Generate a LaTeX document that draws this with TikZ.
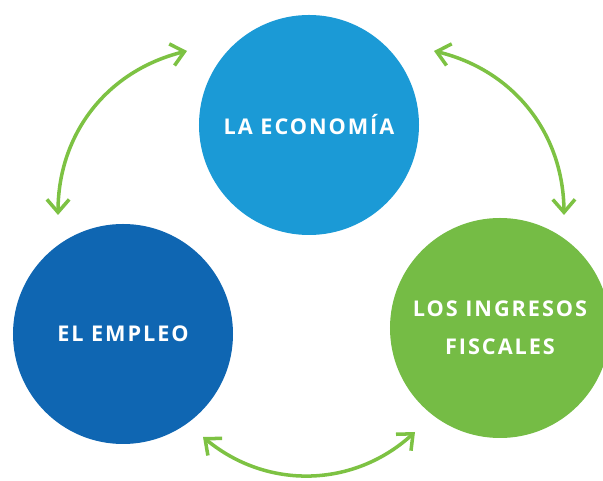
\documentclass[tikz,border=0pt]{standalone}
\usepackage{fontspec}
\setmainfont{Open Sans}[LetterSpace=9]
\usetikzlibrary{arrows.meta}
\definecolor{econblue}{HTML}{1B9AD6}
\definecolor{jobblue}{HTML}{0F66B2}
\definecolor{taxgreen}{HTML}{75BC45}
\definecolor{arrowgreen}{HTML}{7DC243}

\begin{document}
\begin{tikzpicture}[x=0.03cm, y=0.03cm, align=center, text=white,
    font=\bfseries\fontsize{18.5}{32}\selectfont,
    >={Straight Barb[length=11pt,width=19pt]}]
  \useasboundingbox (0,0) rectangle (603,481);

  \node (econ) [circle, fill=econblue, minimum size=6.6cm] at (309,356) {LA ECONOMÍA};
  \node (empleo) [circle, fill=jobblue, minimum size=6.6cm] at (123,147) {EL EMPLEO};
  \node (fiscal) [circle, fill=taxgreen, minimum size=6.6cm] at (500,153) {LOS INGRESOS\\FISCALES};

  % Arrow ends
  \coordinate (econL) at (187,430);
  \coordinate (empleoT) at (58,266);
  \coordinate (econR) at (434,430);
  \coordinate (fiscalT) at (564,266);
  \coordinate (empleoB) at (203,44);
  \coordinate (fiscalB) at (415,49);

  % Curved double arrows
  \draw[<->, arrowgreen, line width=3pt] (econL) to[bend right=38] (empleoT);
  \draw[<->, arrowgreen, line width=3pt] (econR) to[bend left=38] (fiscalT);
  \draw[<->, arrowgreen, line width=3pt] (empleoB) to[bend right=41] (fiscalB);
\end{tikzpicture}
\end{document}
